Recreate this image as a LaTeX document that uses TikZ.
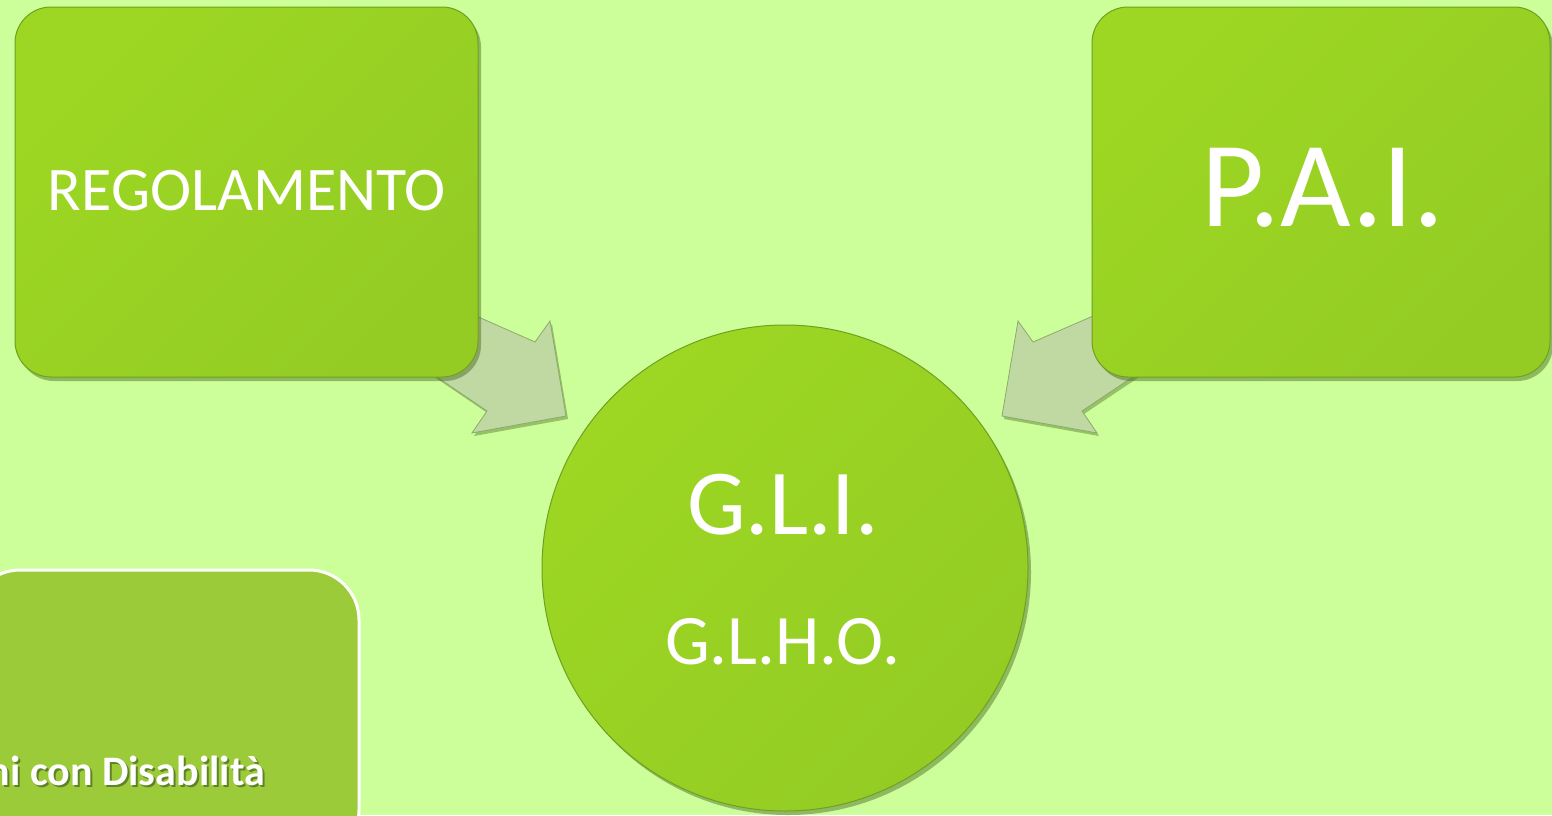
\documentclass[tikz,border=0pt]{standalone}
\usepackage{fontspec}
\setmainfont{Carlito}
\usetikzlibrary{shadows}
\definecolor{bg}{RGB}{204,255,153}
\definecolor{boxA}{RGB}{157,215,35}
\definecolor{boxB}{RGB}{148,204,36}
\definecolor{boxedge}{RGB}{112,160,32}
\definecolor{arrowfill}{RGB}{192,216,162}
\definecolor{arrowedge}{RGB}{140,170,110}
\definecolor{lowbox}{RGB}{155,203,57}
\definecolor{shadowc}{RGB}{70,100,30}
\tikzset{
  greenbox/.style={draw=boxedge, line width=1pt, rounded corners=36pt,
    top color=boxA, bottom color=boxB, shading angle=45,
    drop shadow={shadow xshift=3pt, shadow yshift=-4pt, opacity=0.45, fill=shadowc}},
  greencircle/.style={circle, draw=boxedge, line width=1pt, inner sep=0pt,
    minimum size=486pt, top color=boxA, bottom color=boxB, shading angle=45,
    drop shadow={shadow xshift=3pt, shadow yshift=-4pt, opacity=0.45, fill=shadowc}},
  blockarrow/.style={fill=arrowfill, draw=arrowedge, line width=0.8pt, line join=miter,
    drop shadow={shadow xshift=2pt, shadow yshift=-3pt, opacity=0.4, fill=shadowc}},
  whitetext/.style={text=white, inner sep=0pt},
}
\begin{document}
\begin{tikzpicture}[x=1pt, y=-1pt]
\useasboundingbox (0,0) rectangle (1552,815);
\fill[bg] (0,0) rectangle (1552,815);

% block arrows (behind boxes)
\coordinate (la1) at (440,300);
\coordinate (la2) at (535,342);
\coordinate (la3) at (550,321);
\coordinate (la4) at (566,416);
\coordinate (la5) at (472,433);
\coordinate (la6) at (487,411);
\coordinate (la7) at (400,352);
\path[blockarrow] (la1) -- (la2) -- (la3) -- (la4) -- (la5) -- (la6) -- (la7) -- cycle;

\coordinate (ra1) at (1130,300);
\coordinate (ra2) at (1033,342);
\coordinate (ra3) at (1018,321);
\coordinate (ra4) at (1002,416);
\coordinate (ra5) at (1097,433);
\coordinate (ra6) at (1082,411);
\coordinate (ra7) at (1170,352);
\path[blockarrow] (ra1) -- (ra2) -- (ra3) -- (ra4) -- (ra5) -- (ra6) -- (ra7) -- cycle;

% boxes
\path[greenbox] (15,7) rectangle (478,377);
\node[whitetext, font=\fontsize{62}{62}\selectfont] (reg) at (247,191) {REGOLAMENTO};

\path[greenbox] (1092,7) rectangle (1550,377);
\node[whitetext, font=\fontsize{122}{122}\selectfont] (pai) at (1323,188) {P.A.I.};

% circle
\node[greencircle] (gli) at (785,568) {};
\node[whitetext, font=\fontsize{93}{93}\selectfont] (glitext) at (783,505) {G.L.I.};
\node[whitetext, font=\fontsize{71}{71}\selectfont] (glho) at (783,642) {G.L.H.O.};

% lower left box
\draw[fill=lowbox, draw=white, line width=3pt, rounded corners=50pt] (-30,570) rectangle (359,860);
\node[text=shadowc, opacity=0.7, inner sep=0pt, anchor=base east, font=\fontsize{42}{42}\selectfont\bfseries] (disshadow) at (267,787) {ni con Disabilità};
\node[whitetext, anchor=base east, font=\fontsize{42}{42}\selectfont\bfseries] (dis) at (265,785) {ni con Disabilità};
\end{tikzpicture}
\end{document}
